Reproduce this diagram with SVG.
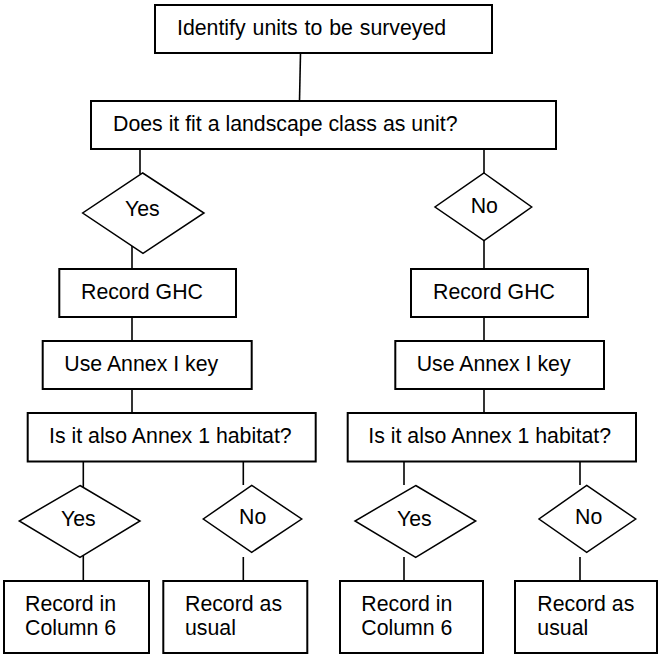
<svg xmlns="http://www.w3.org/2000/svg" width="659" height="655" viewBox="0 0 659 655">
<style>
.box{fill:#fff;stroke:#000;stroke-width:2}
.dia{fill:#fff;stroke:#000;stroke-width:1.5}
.con line{stroke:#000;stroke-width:1.6}
text{font-family:"Liberation Sans",Arial,sans-serif;font-size:21.3px;fill:#000}
</style>
<rect width="659" height="655" fill="#fff"/>
<g class="con" id="connectors">
<line x1="300.5" y1="53" x2="299.5" y2="101"/>
<line x1="140" y1="149" x2="140" y2="174"/>
<line x1="484" y1="149" x2="484" y2="173"/>
<line x1="132" y1="246" x2="132" y2="269"/>
<line x1="132" y1="317" x2="132" y2="341"/>
<line x1="132" y1="389" x2="132" y2="413"/>
<line x1="484" y1="241" x2="484" y2="269"/>
<line x1="484" y1="317" x2="484" y2="341"/>
<line x1="484" y1="389" x2="484" y2="413"/>
<line x1="83.3" y1="462" x2="83.3" y2="487"/>
<line x1="83.3" y1="555" x2="83.3" y2="581"/>
<line x1="243.3" y1="462" x2="243.3" y2="485"/>
<line x1="243.3" y1="557" x2="243.3" y2="581"/>
<line x1="404" y1="462" x2="404" y2="485"/>
<line x1="404" y1="557" x2="404" y2="581"/>
<line x1="580" y1="462" x2="580" y2="485"/>
<line x1="580" y1="557" x2="580" y2="581"/>
</g>
<g id="identify"><rect class="box" x="155" y="5" width="337" height="48"/><text x="177" y="35" word-spacing="1">Identify units to be surveyed</text></g>
<g id="fit-class"><rect class="box" x="91" y="101" width="465" height="48"/><text x="113" y="131">Does it fit a landscape class as unit?</text></g>
<g id="yes1"><polygon class="dia" points="142.7,173 204,213 143,253.3 82.7,213"/><text x="125" y="216">Yes</text></g>
<g id="no1"><polygon class="dia" points="484,173 531.7,207 484,240.7 435,207"/><text x="470.7" y="213">No</text></g>
<g id="ghc-left"><rect class="box" x="59.3" y="269" width="176.7" height="48"/><text x="81" y="299">Record GHC</text></g>
<g id="annex-key-left"><rect class="box" x="42.7" y="341" width="209" height="48"/><text x="64.3" y="371">Use Annex I key</text></g>
<g id="annex1-left"><rect class="box" x="27.7" y="413" width="288" height="48.5"/><text x="49" y="443">Is it also Annex 1 habitat?</text></g>
<g id="ghc-right"><rect class="box" x="411" y="269" width="177" height="48"/><text x="433" y="299">Record GHC</text></g>
<g id="annex-key-right"><rect class="box" x="395.3" y="341" width="208.7" height="48"/><text x="416.7" y="371">Use Annex I key</text></g>
<g id="annex1-right"><rect class="box" x="347.7" y="413" width="288.3" height="48.5"/><text x="368.3" y="443">Is it also Annex 1 habitat?</text></g>
<g id="yes2"><polygon class="dia" points="80,485.5 140,521 80,557.3 19.3,521"/><text x="61" y="526">Yes</text></g>
<g id="no2"><polygon class="dia" points="251.7,485.3 301.7,519 251.7,552.3 203.3,519"/><text x="239" y="524">No</text></g>
<g id="yes3"><polygon class="dia" points="415.7,485.5 475.7,521 415.7,557.3 355,521"/><text x="397" y="526">Yes</text></g>
<g id="no3"><polygon class="dia" points="586.7,485.3 635.7,519 586.7,552.3 539,519"/><text x="575" y="524">No</text></g>
<g id="col6-left"><rect class="box" x="4" y="581" width="145" height="72"/><text x="25" y="611">Record in</text><text x="25" y="635">Column 6</text></g>
<g id="usual-left"><rect class="box" x="163.3" y="581" width="144" height="72"/><text x="185" y="611">Record as</text><text x="185" y="635">usual</text></g>
<g id="col6-right"><rect class="box" x="340" y="581" width="143" height="72"/><text x="361.3" y="611">Record in</text><text x="361.3" y="635">Column 6</text></g>
<g id="usual-right"><rect class="box" x="515" y="581" width="142" height="72"/><text x="537.3" y="611">Record as</text><text x="537.3" y="635">usual</text></g>
</svg>
